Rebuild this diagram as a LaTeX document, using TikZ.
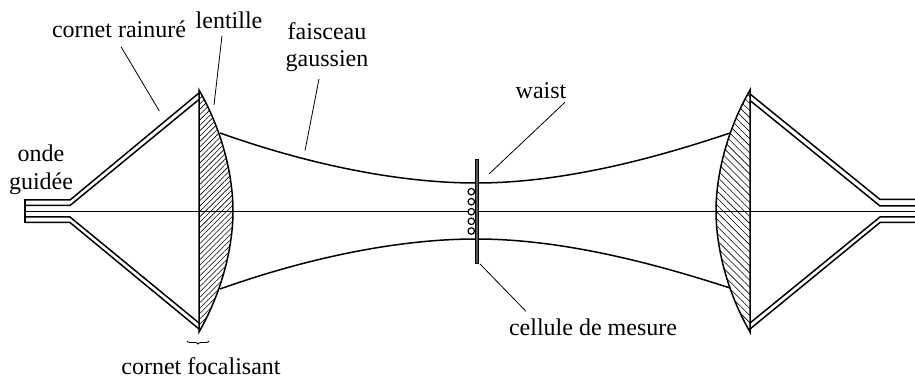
\documentclass[tikz,border=0pt]{standalone}
\usepackage{fontspec}
\setmainfont{Liberation Serif}
\usepackage{tikz}
\usetikzlibrary{patterns.meta,decorations.pathreplacing}
\tikzstyle{every node}=[font=\fontsize{24}{27.5}\selectfont,align=center,inner sep=0pt]
\tikzset{wall/.style={line width=1.5pt},axis/.style={line width=.9pt},leader/.style={line width=.8pt},
	beam/.style={line width=1.5pt},bead/.style={draw,fill=white,line width=1.2pt,circle,minimum size=6.5pt},
	hatchl/.style={pattern={Lines[angle=45,distance=3.8pt,line width=.55pt]}},
	hatchr/.style={pattern={Lines[angle=-45,distance=5pt,line width=.6pt]}}}
\begin{document}
\begin{tikzpicture}[x=1pt,y=-1pt]
	\useasboundingbox (0,0) rectangle (915,379);
	% lenses
	\draw[wall,hatchl] (199,90) .. controls (222,130) and (233,175) .. (233,211) .. controls (233,247) and (222,292) .. (199,332) -- cycle;
	\draw[wall,hatchr] (750,90) .. controls (727,130) and (716,175) .. (716,211) .. controls (716,247) and (727,292) .. (750,332) -- cycle;
	% axis
	\coordinate (axl) at (25,211);
	\coordinate (axr) at (915,211);
	\draw[axis] (axl) -- (axr);
	% horns
	\draw[wall] (25,200) -- (70,200) -- (199,93);
	\draw[wall] (25,205.5) -- (70,205.5) -- (199,99.5);
	\draw[wall] (25,217) -- (70,217) -- (199,323);
	\draw[wall] (25,222.5) -- (70,222.5) -- (199,329);
	\draw[wall] (25,199.3) -- (25,223.2);
	\draw[wall] (915,199.5) -- (880,199.5) -- (750,94);
	\draw[wall] (915,206) -- (880,206) -- (750,100.5);
	\draw[wall] (915,217) -- (880,217) -- (750,323);
	\draw[wall] (915,222.5) -- (880,222.5) -- (750,329);
	% gaussian beam
	\draw[beam] (220,133) .. controls (310,165) and (400,183) .. (476,183) .. controls (560,183) and (650,160) .. (730,133);
	\draw[beam] (220,289) .. controls (310,257) and (400,239) .. (476,239) .. controls (560,239) and (650,262) .. (730,288);
	% cell
	\node[draw,line width=.8pt,fill=black!65,minimum width=3pt,minimum height=104pt] (plaque) at (477.2,211) {};
	\foreach \y in {191.7,201.7,211.7,221.3,231}
		\node[bead] at (471.3,\y) {};
	% labels
	\node (rainure) at (119,29) {cornet rainuré};
	\node (lentille) at (229,20) {lentille};
	\node (faisceau) at (327,47) {faisceau\\gaussien};
	\node (waist) at (541,91) {waist};
	\node (onde) at (41,170) {onde\\guidée};
	\node (cellule) at (593,327) {cellule de mesure};
	\node (focal) at (201,366) {cornet focalisant};
	\coordinate (rainurefin) at (159.3,111);
	\coordinate (lentillefin) at (214,105);
	\coordinate (faisceaufin) at (305,150.7);
	\coordinate (waistfin) at (489,174);
	\coordinate (cellulefin) at (480,264);
	\draw[leader] ([shift={(2,9)}]rainure.south) -- (rainurefin);
	\draw[leader] ([shift={(-7,7)}]lentille.south) -- (lentillefin);
	\draw[leader] ([shift={(-8,7)}]faisceau.south) -- (faisceaufin);
	\draw[leader] ([shift={(24,3)}]waist.south) -- (waistfin);
	\draw[leader] ([shift={(-67,-7)}]cellule.north) -- (cellulefin);
	\draw[decorate,decoration={brace,amplitude=3pt,mirror},line width=.9pt] (187,341) -- (209,341);
\end{tikzpicture}
\end{document}
